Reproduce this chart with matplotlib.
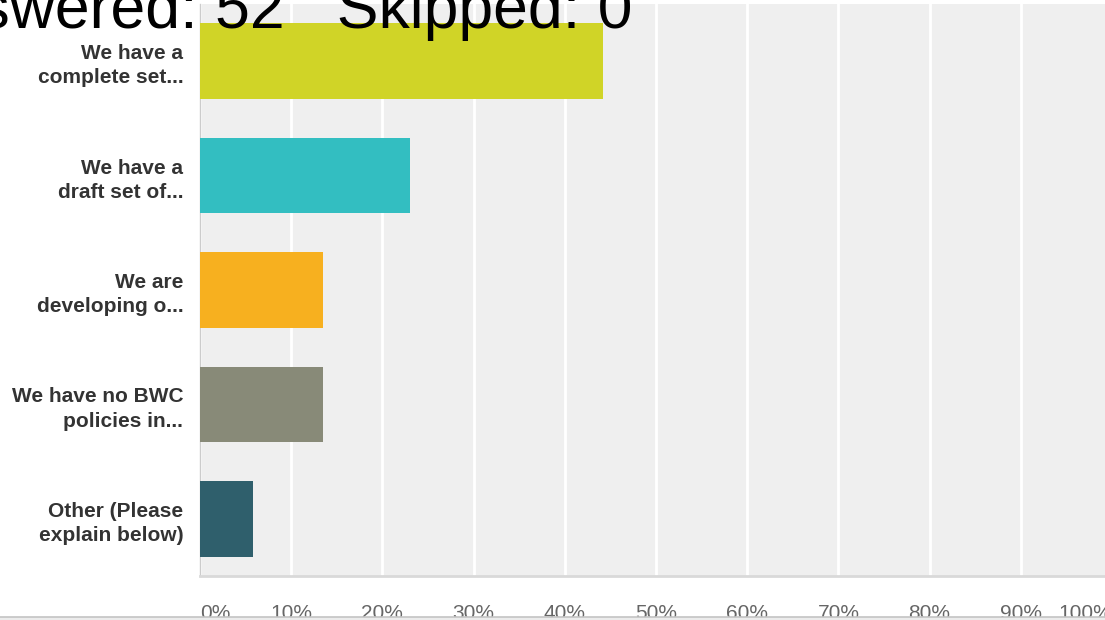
import matplotlib.pyplot as plt
from matplotlib.patches import Rectangle
from matplotlib.lines import Line2D

# 数据
answers = ['We have a\ncomplete set...',
           'We have a\ndraft set of...',
           'We are\ndeveloping o...',
           'We have no BWC\npolicies in...',
           'Other (Please\nexplain below)']
percents = [44.23, 23.08, 13.46, 13.46, 5.77]
bar_colors = ['#d0d427', '#33bec1', '#f7b01f', '#888a78', '#2f5f6c']
tick_values = [0, 10, 20, 30, 40, 50, 60, 70, 80, 90, 100]
tick_labels = ['%d%%' % v for v in tick_values]
title_text = 'Answered: 52   Skipped: 0'

plt.rcParams['font.family'] = ['Liberation Sans', 'DejaVu Sans']

fig = plt.figure(figsize=(11.05, 6.2), dpi=100)
ax = fig.add_axes([200 / 1105, 44 / 620, 912 / 1105, 572 / 620])
ax.set_facecolor('#efefef')

ypos = list(range(len(answers)))
ax.barh(ypos, percents, height=0.66, color=bar_colors, zorder=3)

ax.set_xlim(0, 100)
ax.set_ylim(len(answers) - 0.5, -0.5)
ax.set_xticks(tick_values)
ax.set_xticklabels(tick_labels, fontsize=15, color='#666666')
ax.get_xticklabels()[0].set_ha('left')
ax.get_xticklabels()[-1].set_ha('right')
ax.set_yticks(ypos)
ax.set_yticklabels(answers, fontsize=15, fontweight='bold', color='#333333',
                   linespacing=1.35)
ax.tick_params(axis='x', length=0, pad=20)
ax.tick_params(axis='y', length=0, pad=12)

ax.grid(axis='x', color='white', linewidth=2, zorder=1)
ax.set_axisbelow(True)
for side in ['top', 'right']:
    ax.spines[side].set_visible(False)
ax.spines['left'].set_color('#cccccc')
ax.spines['left'].set_linewidth(1)
ax.spines['bottom'].set_color('#d9d9d9')
ax.spines['bottom'].set_linewidth(2)

# 顶部的标题（被截断）
fig.text(632 / 1105, 1 - 28 / 620, title_text, fontsize=45, color='black',
         ha='right', va='baseline')

# 底部的灰线
fig.add_artist(Rectangle((0, 0), 1, 3 / 620, transform=fig.transFigure,
                         facecolor='#ececec', edgecolor='none', zorder=10))
fig.add_artist(Line2D([0, 1], [3 / 620, 3 / 620], transform=fig.transFigure,
                      color='#c4c4c4', linewidth=1.2, zorder=11))

fig.savefig('out.png', dpi=100)
